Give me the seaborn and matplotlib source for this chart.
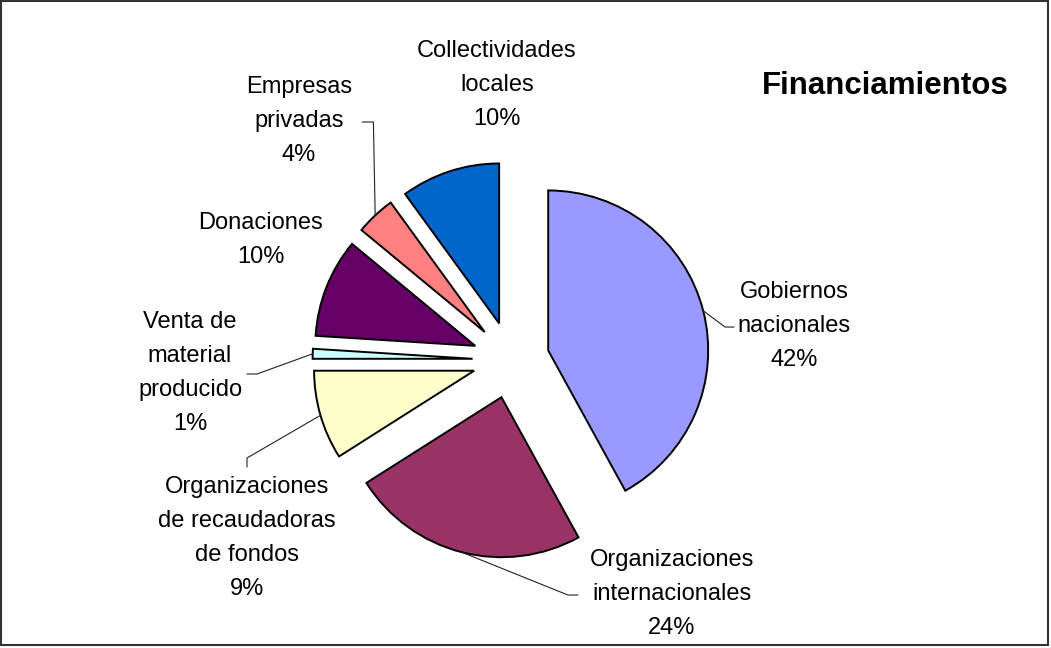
import numpy as np
import seaborn as sns
import matplotlib.pyplot as plt
from matplotlib.patches import Rectangle

# data
categories = ["Gobiernos\nnacionales", "Organizaciones\ninternacionales",
              "Organizaciones\nde recaudadoras\nde fondos", "Venta de\nmaterial\nproducido",
              "Donaciones", "Empresas\nprivadas", "Collectividades\nlocales"]
values = [42, 24, 9, 1, 10, 4, 10]
colors = ["#9999FF", "#993366", "#FFFFCC", "#CCFFFF", "#660066", "#FF8080", "#0066CC"]
title = "Financiamientos"

# label layout (data units, pie radius = 1)
label_pos = [(1.77, 0.2125), (1.006, -1.4625), (-1.65, -1.1125), (-2.006, -0.081),
             (-1.5625, 0.75), (-1.325, 1.494), (-0.0875, 1.719)]
# leader lines: elbow point and end point, None = no leader
leaders = [((1.3375, 0.206), (1.394, 0.206)),
           ((0.356, -1.469), (0.419, -1.469)),
           ((-1.65, -0.6125), (-1.65, -0.669)),
           ((-1.5875, -0.0875), (-1.65, -0.0875)),
           None,
           ((-0.86, 1.4875), (-0.93, 1.4875)),
           None]

sns.set_theme(style="white")
plt.rcParams['font.family'] = ['Liberation Sans', 'DejaVu Sans']

fig = plt.figure(figsize=(10.51, 6.48), dpi=100)
ax = fig.add_axes([0, 0, 1, 1])

wedges, _ = ax.pie(values, colors=colors, startangle=90, counterclock=False,
                   explode=[0.24] * len(values), radius=1,
                   wedgeprops=dict(edgecolor="black", linewidth=1.4))

total = sum(values)
for w, cat, v, pos, ld in zip(wedges, categories, values, label_pos, leaders):
    pct = round(v / total * 100)
    ax.text(pos[0], pos[1], f"{cat}\n{pct}%", ha="center", va="center",
            fontsize=17, linespacing=1.7, color="black")
    if ld is not None:
        mid = np.deg2rad((w.theta1 + w.theta2) / 2)
        cx, cy = w.center
        sx, sy = cx + w.r * np.cos(mid), cy + w.r * np.sin(mid)
        xs = [sx, ld[0][0], ld[1][0]]
        ys = [sy, ld[0][1], ld[1][1]]
        ax.plot(xs, ys, color="#222222", lw=0.8)

ax.text(2.3375, 1.7125, title, ha="center", va="center", fontsize=22.5,
        fontweight="bold", color="black")

ax.set_xlim(-511 / 160, (1051 - 511) / 160)
ax.set_ylim(-(648 - 360) / 160, 360 / 160)
ax.set_aspect("equal")
ax.axis("off")

fig.patches.append(Rectangle((0.001, 0.004), 0.996, 0.994, transform=fig.transFigure,
                             fill=False, edgecolor="#333333", linewidth=1.5))

fig.savefig("out.png", dpi=100)
